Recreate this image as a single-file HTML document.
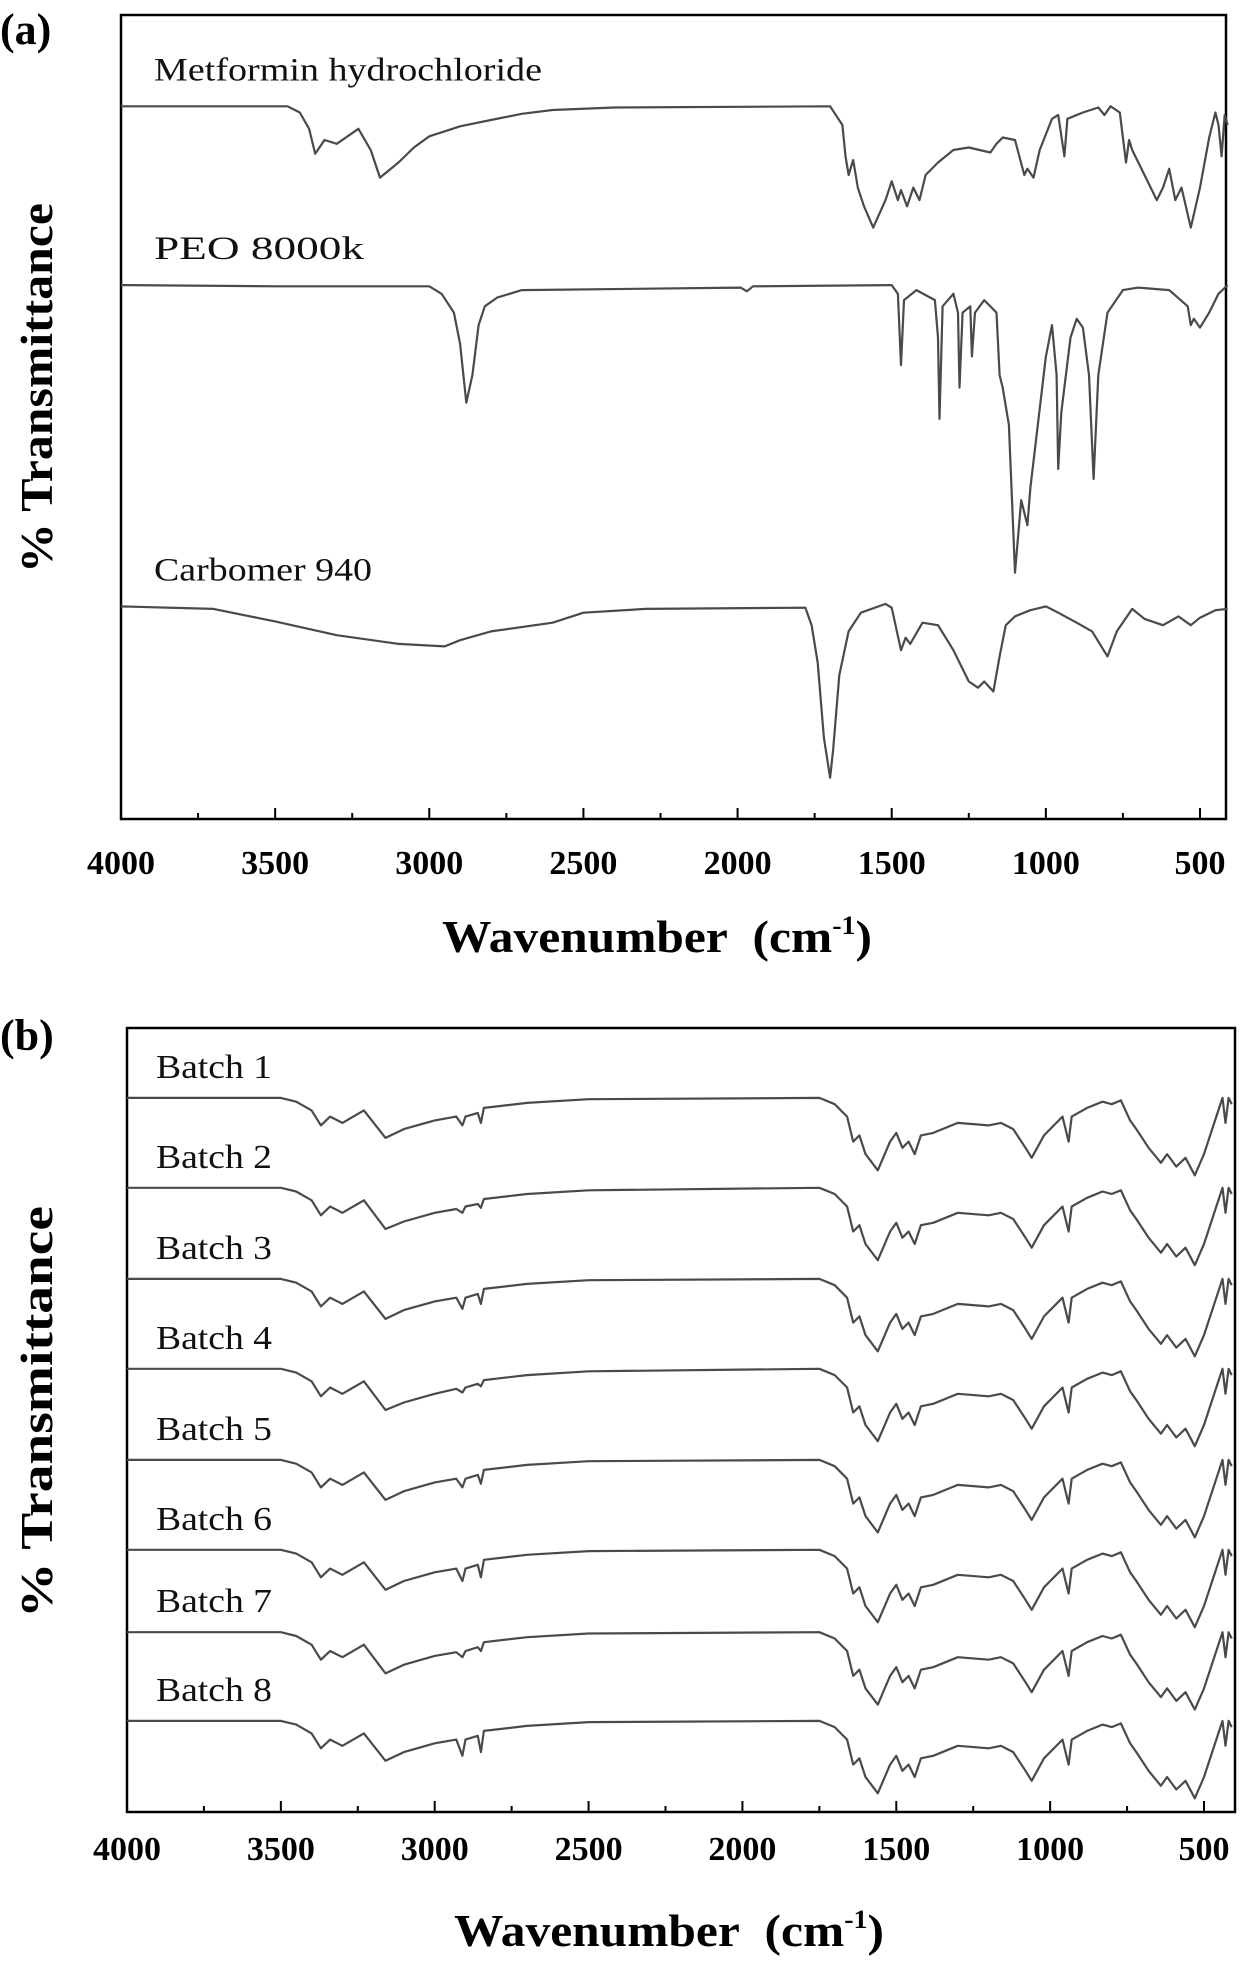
<!DOCTYPE html>
<html><head><meta charset="utf-8">
<style>
html,body{margin:0;padding:0;background:#fff;}
svg{display:block;}
text{font-family:"Liberation Serif",serif;}
</style></head>
<body>
<svg id="chart" width="1242" height="1966" viewBox="0 0 1242 1966" xmlns="http://www.w3.org/2000/svg">
<text x="0" y="44" font-size="44" font-weight="bold">(a)</text>
<text x="0" y="1050" font-size="44" font-weight="bold">(b)</text>
</svg>
<script>
// ---------- DATA ----------
const xTicks = [4000,3500,3000,2500,2000,1500,1000,500];
const minorTicks = [3750,3250,2750,2250,1750,1250,750];

const namesA = ["Metformin hydrochloride","PEO 8000k","Carbomer 940"];
const offsetsA = [570,427,170];
const metWn = [4000,3460,3420,3390,3370,3340,3300,3230,3190,3160,3100,3050,3000,2900,2800,2700,2600,2400,1700,1660,1650,1640,1625,1610,1590,1560,1520,1500,1480,1470,1450,1430,1410,1390,1350,1300,1250,1180,1160,1140,1100,1070,1060,1040,1020,980,960,940,930,880,830,810,790,760,740,730,720,680,640,620,600,580,560,530,500,470,450,440,430,420,410];
const metDrop = [0,0,5,18,38,27,30,18,35,57,45,33,24,16,11,6,3,1,0,15,40,55,43,65,80,97,75,60,75,67,80,65,75,55,45,35,33,37,30,25,27,55,50,57,35,10,7,40,10,5,1,7,0,5,45,27,35,55,75,65,50,75,65,97,65,25,5,15,40,7,15];
const peoWn = [4000,3500,3000,2960,2920,2900,2880,2860,2840,2820,2780,2700,1990,1970,1950,1500,1480,1470,1460,1420,1360,1350,1345,1335,1300,1285,1280,1270,1245,1240,1230,1200,1160,1150,1140,1120,1100,1080,1060,1050,1000,980,965,960,950,920,900,880,860,845,830,800,750,700,600,540,530,520,500,470,440,410];
const peoDrop = [0,1,1,7,22,47,94,72,32,17,10,4,2,5,1,0,7,64,12,4,12,42,107,17,7,22,82,22,17,57,22,12,22,72,82,112,230,172,192,162,57,32,72,147,102,42,27,34,72,155,72,22,4,2,4,17,32,27,34,22,7,0];
const carbWn = [4000,3700,3500,3300,3100,2950,2900,2800,2600,2500,2300,1780,1760,1740,1720,1700,1690,1670,1640,1600,1520,1500,1470,1455,1440,1400,1350,1300,1250,1220,1200,1170,1150,1130,1100,1050,1000,960,900,850,800,770,720,680,620,570,530,500,450,410];
const carbDrop = [0,2,12,23,30,32,27,20,13,5,2,1,15,45,105,137,115,55,20,5,-2,1,35,25,30,13,15,35,60,65,60,68,40,15,8,3,0,5,13,20,40,20,2,10,15,8,15,9,3,2];

const batchNames = ["Batch 1","Batch 2","Batch 3","Batch 4","Batch 5","Batch 6","Batch 7","Batch 8"];
const offsetsB = [572,500,427,355,282,210,144,73];
const batchWn = [4000,3500,3450,3400,3370,3340,3300,3230,3160,3100,3000,2930,2910,2900,2860,2850,2840,2700,2500,1750,1700,1660,1640,1620,1600,1560,1520,1500,1480,1460,1440,1420,1380,1300,1200,1160,1120,1080,1060,1020,960,940,930,880,830,800,770,740,720,680,640,620,590,560,530,500,460,440,430,420,410];
const batch1 = [0,0,3,10,22,15,20,10,32,25,18,15,22,15,12,20,8,4,1,0,5,15,35,30,45,58,35,28,40,35,45,30,28,20,22,20,25,40,48,30,15,35,15,8,3,5,2,18,25,40,52,45,55,48,62,45,15,0,20,0,5];
const batch2 = [0,0,3,10,22,15,20,10,33,27,20,17,20,15,13,16,9,5,2,0,5,15,35,30,45,58,35,28,40,35,45,30,28,20,22,20,25,40,48,30,15,35,15,8,3,5,2,18,25,40,52,45,55,48,62,45,15,0,20,0,5];
const batch3 = [0,0,3,10,22,15,20,10,32,25,18,15,24,15,12,20,8,4,1,0,5,15,35,30,45,58,35,28,40,35,45,30,28,20,22,20,25,40,48,30,15,35,15,8,3,5,2,18,25,40,52,45,55,48,62,45,15,0,20,0,5];
const batch4 = [0,0,3,10,22,15,20,10,33,27,20,16,19,15,12,14,9,5,2,0,5,15,35,30,45,58,35,28,40,35,45,30,28,20,22,20,25,40,48,30,15,35,15,8,3,5,2,18,25,40,52,45,55,48,62,45,15,0,20,0,5];
const batch5 = [0,0,3,10,22,15,20,10,32,25,18,15,22,15,12,19,8,4,1,0,5,15,35,30,45,58,35,28,40,35,45,30,28,20,22,20,25,40,48,30,15,35,15,8,3,5,2,18,25,40,52,45,55,48,62,45,15,0,20,0,5];
const batch6 = [0,0,3,10,22,15,20,10,32,25,18,15,25,15,12,22,8,4,1,0,5,15,35,30,45,58,35,28,40,35,45,30,28,20,22,20,25,40,48,30,15,35,15,8,3,5,2,18,25,40,52,45,55,48,62,45,15,0,20,0,5];
const batch7 = [0,0,3,10,22,15,20,10,33,26,19,16,20,15,12,15,8,4,1,0,5,15,35,30,45,58,35,28,40,35,45,30,28,20,22,20,25,40,48,30,15,35,15,8,3,5,2,18,25,40,52,45,55,48,62,45,15,0,20,0,5];
const batch8 = [0,0,3,10,22,15,20,10,32,25,18,15,28,15,12,25,8,4,1,0,5,15,35,30,45,58,35,28,40,35,45,30,28,20,22,20,25,40,48,30,15,35,15,8,3,5,2,18,25,40,52,45,55,48,62,45,15,0,20,0,5];

// ---------- DRAW ----------
const svg = document.getElementById('chart');
const NS = 'http://www.w3.org/2000/svg';
function mk(tag, attrs, parent){
  const e = document.createElementNS(NS, tag);
  for (const k in attrs) e.setAttribute(k, attrs[k]);
  (parent||svg).appendChild(e);
  return e;
}
function panel(P){
  const g = mk('g', {});
  
  
  const xS = wn => P.x0 + (P.wnMax - wn) * (P.x500 - P.x0) / (P.wnMax - 500);
  const yS = v => P.bottom - v * (P.bottom - P.top) / P.yMax;
  const frame = mk('rect', {x:P.x0, y:P.top, width:P.right-P.x0, height:P.bottom-P.top, fill:'none', stroke:'#000', 'stroke-width':2.5}, g);
  
  
  xTicks.forEach(t=>{
    const x = xS(t);
    const tk = mk('line', {x1:x, x2:x, y1:P.bottom, y2:P.bottom-11, stroke:'#000', 'stroke-width':2}, g);
    
    
    const lb = mk('text', {x:x, y:P.tickY, 'font-size':34, 'font-weight':'bold', 'text-anchor':'middle'}, g);
    lb.textContent = t;
    
    
  });
  minorTicks.forEach(t=>{
    const x = xS(t);
    const tk = mk('line', {x1:x, x2:x, y1:P.bottom, y2:P.bottom-6, stroke:'#000', 'stroke-width':2}, g);
    
    
  });
  const xl = mk('text', {x:P.xLabelX, y:P.xLabelY, 'font-size':46, 'font-weight':'bold', 'text-anchor':'middle', textLength:430, lengthAdjust:'spacingAndGlyphs'}, g);
  xl.innerHTML = 'Wavenumber&#160;&#160;(cm<tspan dy="-18" font-size="26">-1</tspan><tspan dy="18">)</tspan>';
  
  
  const yl = mk('text', {x:0, y:0, 'font-size':46, 'font-weight':'bold', 'text-anchor':'middle', textLength:P.yLen, lengthAdjust:'spacingAndGlyphs', transform:`translate(${P.yLabelX},${P.yLabelY}) rotate(-90)`}, g);
  yl.textContent = '% Transmittance';
  
  
  P.series.forEach((s,i)=>{
    let d = '';
    s.wn.forEach((w,j)=>{ d += (j?'L':'M') + xS(w).toFixed(1) + ',' + yS(s.off - s.drop[j]).toFixed(1); });
    const p = mk('path', {d:d, fill:'none', stroke:'#4a4a4a', 'stroke-width':2.2, 'stroke-linejoin':'round'}, g);
    
    
    const t = mk('text', {x:P.lblX, y:yS(s.off) - P.lblGap, 'font-size':P.lblSize, fill:'#111', textLength:s.tl, lengthAdjust:'spacingAndGlyphs'}, g);
    t.textContent = s.name;
    
    
  });
}
const seriesA = [
  {name:namesA[0], wn:metWn, drop:metDrop, off:offsetsA[0], tl:388},
  {name:namesA[1], wn:peoWn, drop:peoDrop, off:offsetsA[1], tl:210},
  {name:namesA[2], wn:carbWn, drop:carbDrop, off:offsetsA[2], tl:218}
];
panel({id:'panel-a', x0:121, x500:1200, right:1226, wnMax:4000, top:15, bottom:819, yMax:643,
  tickY:874, xLabelX:657, xLabelY:952, yLabelX:52, yLabelY:388, yLen:370,
  lblX:154, lblGap:26, lblSize:33, series:seriesA});
const batchData = [batch1,batch2,batch3,batch4,batch5,batch6,batch7,batch8];
const seriesB = batchNames.map((n,i)=>({name:n, wn:batchWn, drop:batchData[i], off:offsetsB[i], tl:116}));
panel({id:'panel-b', x0:127, x500:1204, right:1235, wnMax:4000, top:1028, bottom:1812, yMax:628,
  tickY:1860, xLabelX:669, xLabelY:1946, yLabelX:52, yLabelY:1412, yLen:412,
  lblX:156, lblGap:20, lblSize:34, series:seriesB});
</script>
</body></html>
